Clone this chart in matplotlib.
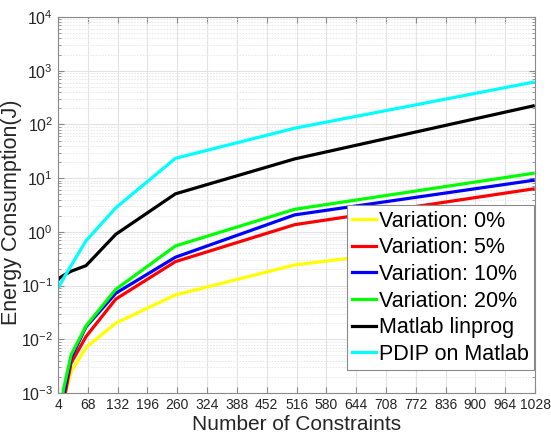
import math
import matplotlib
matplotlib.use("Agg")
import matplotlib.pyplot as plt
from matplotlib.ticker import LogLocator, FixedLocator, NullFormatter, FuncFormatter

plt.rcParams['font.family'] = ['Liberation Sans', 'DejaVu Sans']
plt.rcParams['mathtext.fontset'] = 'custom'
plt.rcParams['mathtext.rm'] = 'Liberation Sans'
plt.rcParams['mathtext.it'] = 'Liberation Sans:italic'

x = [4, 8, 16, 32, 64, 128, 256, 512, 1024]
var0 = [0.0002, 0.0004, 0.0007, 0.0025, 0.007, 0.02, 0.067, 0.242, 0.85]
var5 = [0.0002, 0.0004, 0.0007, 0.0036, 0.0112, 0.056, 0.279, 1.36, 6.3]
var10 = [0.0002, 0.0004, 0.0009, 0.0045, 0.017, 0.072, 0.337, 2.07, 9.1]
var20 = [0.0002, 0.0004, 0.0012, 0.0051, 0.0177, 0.085, 0.546, 2.63, 12.3]
linprog = [0.128, 0.14, 0.155, 0.185, 0.235, 0.9, 5.1, 22.8, 221]
pdip = [0.089, 0.103, 0.137, 0.235, 0.68, 2.8, 23.4, 85, 611]

labels = ['Variation: 0%', 'Variation: 5%', 'Variation: 10%', 'Variation: 20%',
          'Matlab linprog', 'PDIP on Matlab']
colors = ['#ffff00', '#ff0000', '#0000ff', '#00ff00', '#000000', '#00ffff']
xticks = list(range(4, 1029, 64))
yticks = [1e-3, 1e-2, 1e-1, 1e0, 1e1, 1e2, 1e3, 1e4]

fig = plt.figure(figsize=(5.51, 4.41), dpi=100)
ax = fig.add_axes([0.1053, 0.1088, 0.8657, 0.8527])

for ys, lab, c in zip([var0, var5, var10, var20, linprog, pdip], labels, colors):
    ax.plot(x, ys, color=c, lw=2.3, label=lab, solid_joinstyle='miter')

ax.set_yscale('log')
ax.set_xlim(4, 1028)
ax.set_ylim(1e-3, 1e4)
ax.xaxis.set_major_locator(FixedLocator(xticks))
ax.set_xticklabels([str(t) for t in xticks])
ax.yaxis.set_major_locator(FixedLocator(yticks))
ax.yaxis.set_minor_locator(LogLocator(base=10, subs=range(2, 10), numticks=100))
ax.yaxis.set_minor_formatter(NullFormatter())
ax.yaxis.set_major_formatter(FuncFormatter(lambda v, p: r'$10^{%d}$' % round(math.log10(v))))

ax.grid(True, which='major', color='#e3e3e3', lw=0.8)
ax.grid(True, which='minor', axis='y', color='#e6e6e6', lw=0.6, ls=(0, (2, 1.5)))
ax.set_axisbelow(True)

for s in ax.spines.values():
    s.set_color('#8a8a8a')
    s.set_linewidth(0.8)
ax.tick_params(which='both', direction='in', top=True, right=True, colors='#8a8a8a',
               labelcolor='#262626', labelsize=10)
ax.tick_params(which='major', length=4)
ax.tick_params(which='minor', length=2)
ax.tick_params(axis='y', labelsize=11.5)

ax.set_xlabel('Number of Constraints', fontsize=15, color='#262626')
ax.xaxis.set_label_coords(0.5, -0.058)
ax.set_ylabel('Energy Consumption(J)', fontsize=15.5, color='#262626')
ax.yaxis.set_label_coords(-0.075, 0.48)

leg = ax.legend(loc='lower right', bbox_to_anchor=(0.998, 0.061), fontsize=15.5,
                frameon=True, fancybox=False, edgecolor='#8a8a8a', framealpha=1,
                handlelength=1.08, handletextpad=0.15, borderpad=0.25,
                labelspacing=0.26, borderaxespad=0)
leg.get_frame().set_linewidth(0.8)

fig.savefig('out.png', dpi=100)
